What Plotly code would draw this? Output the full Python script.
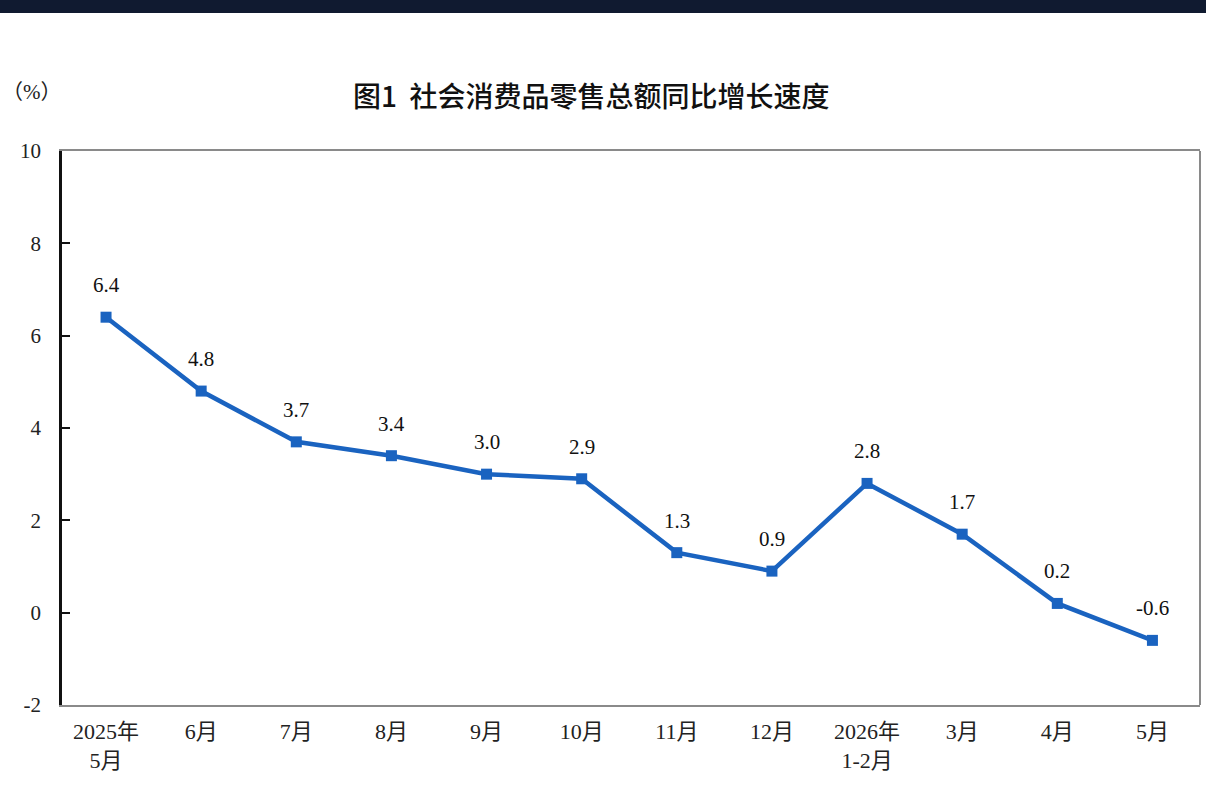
import plotly.graph_objects as go

categories = ["2025年<br>5月", "6月", "7月", "8月", "9月", "10月", "11月", "12月",
              "2026年<br>1-2月", "3月", "4月", "5月"]
values = [6.4, 4.8, 3.7, 3.4, 3.0, 2.9, 1.3, 0.9, 2.8, 1.7, 0.2, -0.6]
value_labels = ["6.4", "4.8", "3.7", "3.4", "3.0", "2.9", "1.3", "0.9", "2.8", "1.7", "0.2", "-0.6"]
y_ticks = [-2, 0, 2, 4, 6, 8, 10]
y_tick_text = ["-2", "0", "2", "4", "6", "8", "10"]

W, H = 1206, 812
L, R, T, B = 62, 6, 151, 107
pw, ph = W - L - R, H - T - B

serif = "Liberation Serif, Times New Roman, Noto Sans CJK SC, serif"
blue = "#1a63c0"

fig = go.Figure()
fig.add_trace(go.Scatter(
    x=list(range(len(categories))), y=values, mode="lines+markers",
    line=dict(color=blue, width=4.5),
    marker=dict(symbol="square", size=11, color=blue),
    hoverinfo="skip", showlegend=False,
))

for i, (v, t) in enumerate(zip(values, value_labels)):
    fig.add_annotation(x=i, y=v, text=t, showarrow=False, yshift=32,
                       font=dict(family=serif, size=21, color="#111"))

fig.add_annotation(xref="paper", yref="paper", x=(591 - L) / pw, y=1 + (T - 95) / ph,
                   text="图1  社会消费品零售总额同比增长速度", showarrow=False,
                   font=dict(family="Noto Sans CJK SC", size=28, color="#111", weight=500),
                   xanchor="center", yanchor="middle")
fig.add_annotation(xref="paper", yref="paper", x=(0 - L) / pw, y=1 + (T - 92) / ph,
                   text="（%）", showarrow=False, xanchor="left", yanchor="middle",
                   font=dict(family=serif, size=21, color="#222"))

# dark band at top
fig.add_shape(type="rect", xref="paper", yref="paper",
              x0=-L / pw, x1=(W - L) / pw, y0=1 + (T - 13) / ph, y1=1 + T / ph + 0.01,
              fillcolor="#101a30", line=dict(width=0), layer="above")
# right border
fig.add_shape(type="line", xref="paper", yref="paper", x0=1, x1=1, y0=0, y1=1,
              line=dict(color="#8a8a8a", width=2))

fig.update_layout(
    width=W, height=H, margin=dict(l=L, r=R, t=T, b=B),
    paper_bgcolor="white", plot_bgcolor="white",
    xaxis=dict(
        range=[-0.463, 11.5], tickmode="array", tickvals=list(range(len(categories))),
        ticktext=categories, showgrid=False, zeroline=False,
        showline=True, linecolor="#8a8a8a", linewidth=2, mirror=True,
        ticks="", ticklabelstandoff=6,
        tickfont=dict(family=serif, size=22, color="#222"),
    ),
    yaxis=dict(
        range=[-2, 10], tickmode="array", tickvals=y_ticks, ticktext=y_tick_text,
        showgrid=False, zeroline=False, showline=True, linecolor="#111", linewidth=2.5,
        ticks="inside", ticklen=8, tickwidth=2, tickcolor="#111",
        ticklabelstandoff=14,
        tickfont=dict(family=serif, size=21, color="#222"),
    ),
)

fig.write_html("out.html")
